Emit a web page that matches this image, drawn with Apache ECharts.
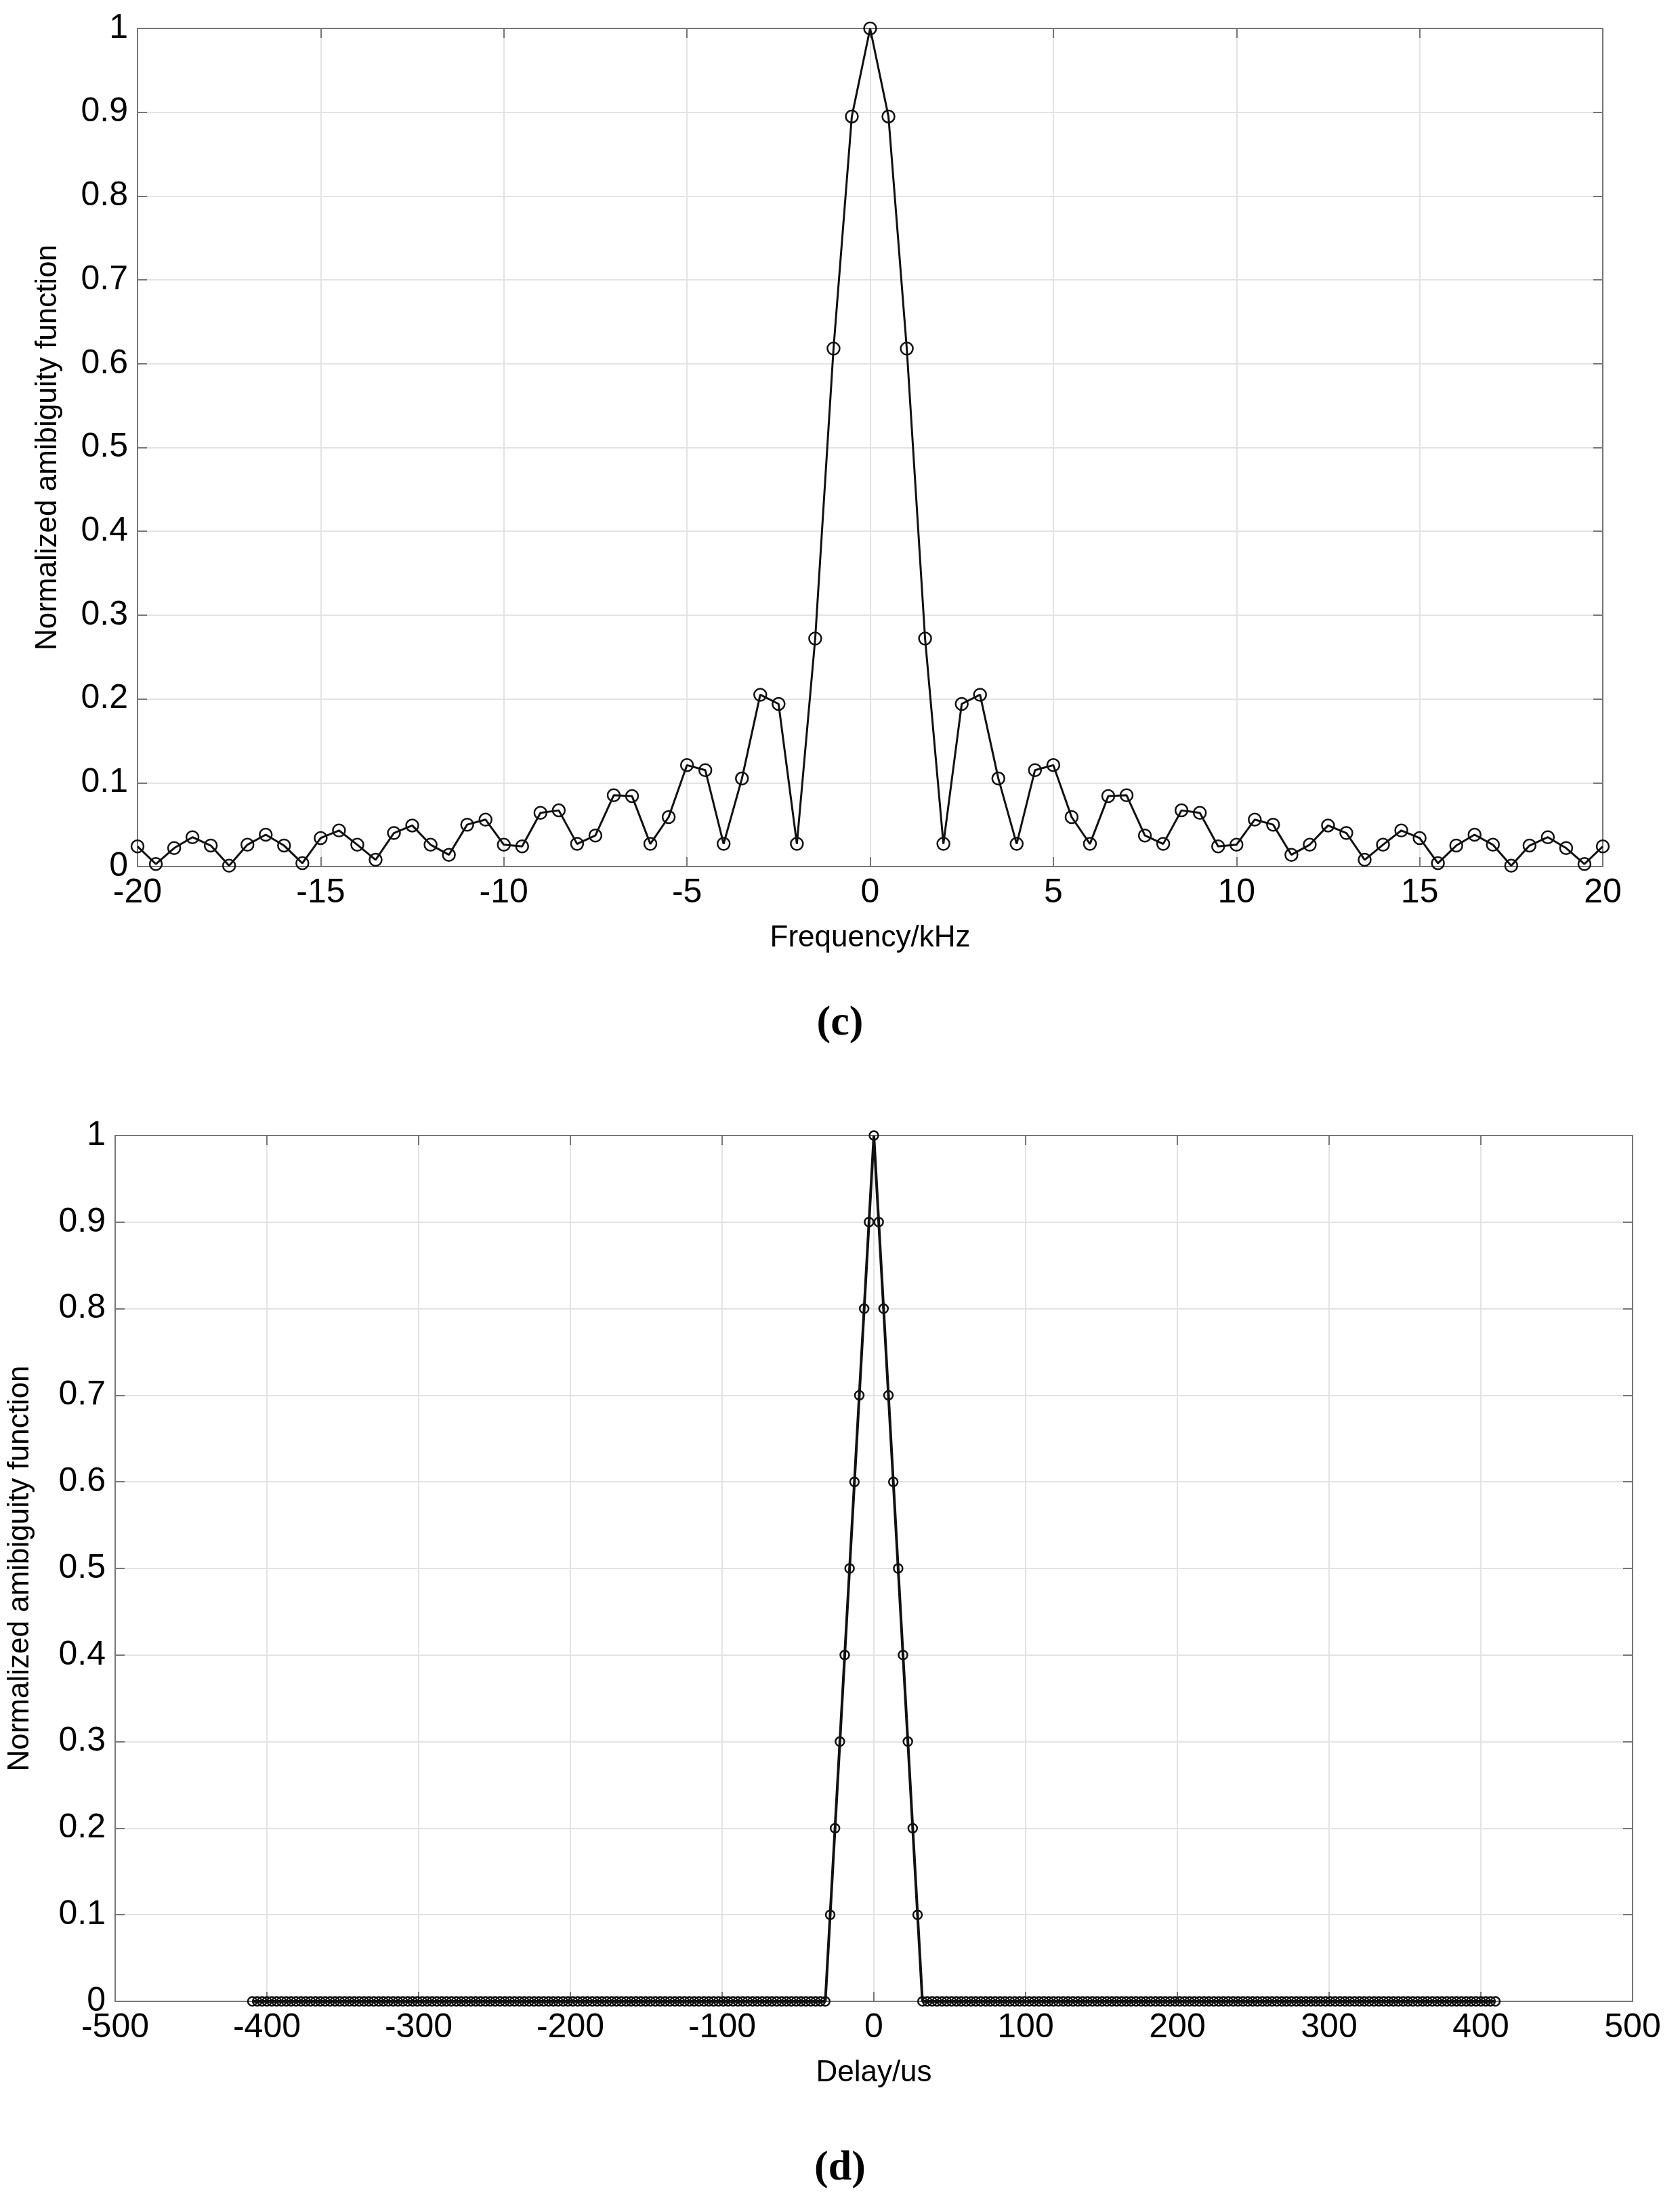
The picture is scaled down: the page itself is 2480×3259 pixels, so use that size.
<!DOCTYPE html>
<html>
<head>
<meta charset="utf-8">
<script src="https://cdn.jsdelivr.net/npm/echarts@6/dist/echarts.min.js"></script>
<style>html,body{margin:0;padding:0;background:#fff}#chart{width:2480px;height:3259px}</style>
</head>
<body>
<div id="chart"></div>
<script>
// panel (c): frequency cut, sampled every 0.5 kHz
var freqs = [];
for (var f = -40; f <= 40; f++) freqs.push(f / 2);
var freqVals = [
    0.024, 0.003, 0.022, 0.035, 0.025, 0.001, 0.026, 0.038, 0.025, 0.004,
    0.034, 0.043, 0.026, 0.008, 0.040, 0.049, 0.026, 0.014, 0.050, 0.056,
    0.026, 0.024, 0.064, 0.067, 0.027, 0.037, 0.085, 0.084, 0.027, 0.059,
    0.121, 0.115, 0.027, 0.105, 0.205, 0.194, 0.027, 0.272, 0.618, 0.895,
    1.000,
    0.895, 0.618, 0.272, 0.027, 0.194, 0.205, 0.105, 0.027, 0.115, 0.121,
    0.059, 0.027, 0.084, 0.085, 0.037, 0.027, 0.067, 0.064, 0.024, 0.026,
    0.056, 0.050, 0.014, 0.026, 0.049, 0.040, 0.008, 0.026, 0.043, 0.034,
    0.004, 0.025, 0.038, 0.026, 0.001, 0.025, 0.035, 0.022, 0.003, 0.024
];

// panel (d): delay cut, samples every 3.2 us from -409.6 to 409.6
var delayStep = 3.2;
var peakVals = [0.1, 0.2, 0.3, 0.4, 0.5, 0.6, 0.7, 0.8, 0.9, 1, 0.9, 0.8, 0.7, 0.6, 0.5, 0.4, 0.3, 0.2, 0.1];
var zerosEachSide = 119;   // flat zero samples left and right of the peak

var freqData = freqs.map(function (x, i) { return [x, freqVals[i]]; });
var delayVals = [];
for (var i = 0; i < zerosEachSide; i++) delayVals.push(0);
delayVals = delayVals.concat(peakVals);
for (var i = 0; i < zerosEachSide; i++) delayVals.push(0);
var half = (delayVals.length - 1) / 2;
var delayData = delayVals.map(function (v, i) { return [Math.round((i - half) * delayStep * 10) / 10, v]; });

var font = 'Liberation Sans, Arial, sans-serif';
var lab = { color: '#000', fontSize: 50, fontFamily: font, margin: 14 };
var gridLine = { show: true, lineStyle: { color: '#e3e3e3', width: 2 } };
var frameLine = { show: true, onZero: false, lineStyle: { color: '#777', width: 2 } };
var tick = { show: true, inside: true, length: 14, lineStyle: { color: '#777', width: 2 } };

function xAx(grid, min, max, interval, name) {
    return [{
        type: 'value', gridIndex: grid, min: min, max: max, interval: interval,
        axisLine: frameLine, axisTick: tick, splitLine: gridLine, axisLabel: lab,
        name: name, nameLocation: 'middle', nameGap: 84,
        nameTextStyle: { color: '#000', fontSize: 44, fontFamily: font }
    }, {
        type: 'value', gridIndex: grid, min: min, max: max, interval: interval, position: 'top',
        axisLine: frameLine, axisTick: tick, splitLine: { show: false }, axisLabel: { show: false }
    }];
}
function yAx(grid, nameGap) {
    return [{
        type: 'value', gridIndex: grid, min: 0, max: 1, interval: 0.1,
        axisLine: frameLine, axisTick: tick, splitLine: gridLine, axisLabel: lab,
        name: 'Normalized amibiguity function', nameLocation: 'middle', nameGap: nameGap,
        nameTextStyle: { color: '#000', fontSize: 44, fontFamily: font }
    }, {
        type: 'value', gridIndex: grid, min: 0, max: 1, interval: 0.1, position: 'right',
        axisLine: frameLine, axisTick: tick, splitLine: { show: false }, axisLabel: { show: false }
    }];
}

var marker = { color: 'rgba(255,255,255,0)', borderColor: '#111', borderWidth: 2.5 };

var chart = echarts.init(document.getElementById('chart'));
chart.setOption({
    backgroundColor: '#fff',
    animation: false,
    title: [
        { text: '(c)', left: 'center', top: 1475, textStyle: { fontFamily: 'Liberation Serif, serif', fontSize: 62, fontWeight: 'bold', color: '#000' } },
        { text: '(d)', left: 'center', top: 3165, textStyle: { fontFamily: 'Liberation Serif, serif', fontSize: 62, fontWeight: 'bold', color: '#000' } }
    ],
    grid: [
        { left: 203, top: 42, width: 2163, height: 1237 },
        { left: 166, top: 1676, width: 2244, height: 1278 }
    ],
    xAxis: xAx(0, -20, 20, 5, 'Frequency/kHz').concat(xAx(1, -500, 500, 100, 'Delay/us')),
    yAxis: yAx(0, 110).concat(yAx(1, 118)),
    series: [{
        type: 'line', xAxisIndex: 0, yAxisIndex: 0, data: freqData,
        symbol: 'circle', symbolSize: 18, showAllSymbol: true,
        lineStyle: { color: '#111', width: 3 },
        itemStyle: marker
    }, {
        type: 'line', xAxisIndex: 2, yAxisIndex: 2, data: delayData,
        symbol: 'circle', symbolSize: 13, showAllSymbol: true,
        lineStyle: { color: '#111', width: 4 },
        itemStyle: marker
    }]
});
</script>
</body>
</html>
